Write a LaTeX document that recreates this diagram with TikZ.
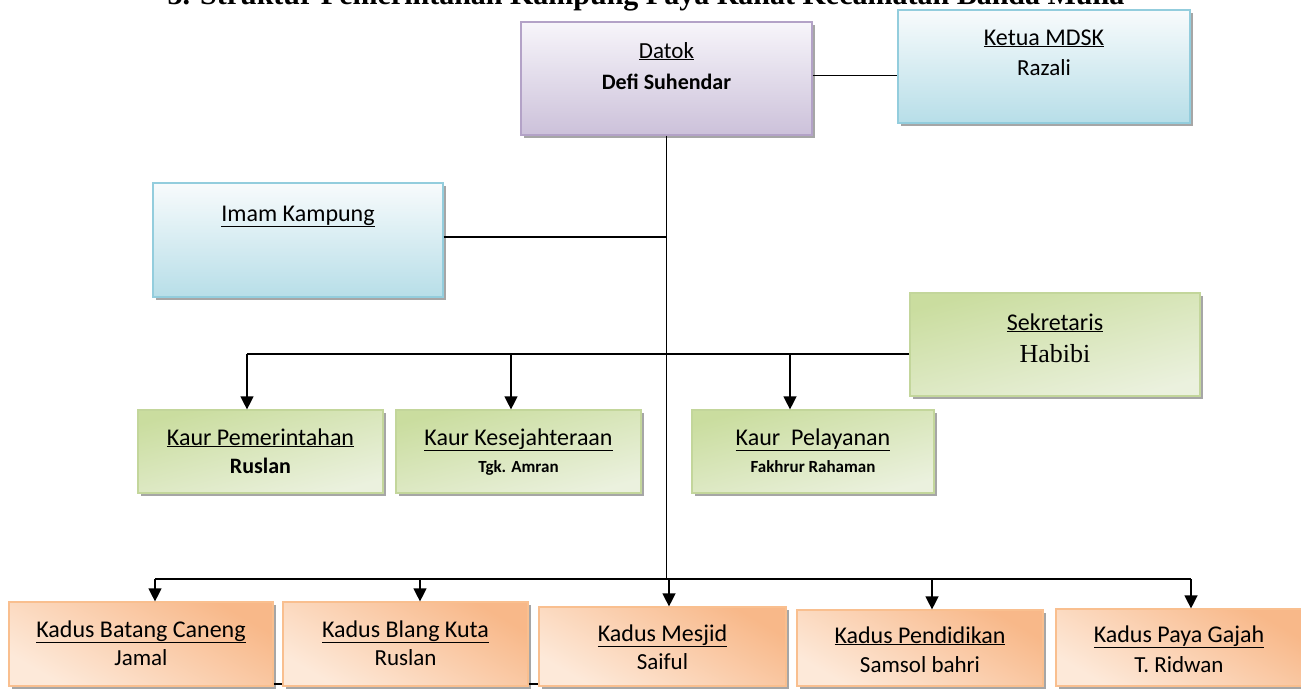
\documentclass[tikz,border=0pt]{standalone}
\usepackage{fontspec}
\setmainfont{Carlito}
\newfontfamily\timesf{Liberation Serif}
\usetikzlibrary{arrows.meta,shadows}
\definecolor{purpD}{HTML}{B3A2C7}
\definecolor{purpT}{HTML}{F7F5FA}
\definecolor{purpB}{HTML}{CCC1DA}
\definecolor{blueD}{HTML}{93CDDD}
\definecolor{blueT}{HTML}{F8FBFC}
\definecolor{blueB}{HTML}{B7DEE8}
\definecolor{greenD}{HTML}{C3D69B}
\definecolor{greenT}{HTML}{CADD9F}
\definecolor{greenB}{HTML}{EBF1DE}
\definecolor{orD}{HTML}{F9BF8F}
\definecolor{orT}{HTML}{F8B889}
\definecolor{orB}{HTML}{FDE9D9}
\definecolor{shadowc}{HTML}{A6A6A6}
\tikzset{
  box/.style={rectangle, inner sep=0pt, line width=1.2pt,
    drop shadow={shadow xshift=3pt, shadow yshift=-3pt, fill=shadowc, opacity=1}},
  purplebox/.style={box, draw=purpD, top color=purpT, bottom color=purpB},
  bluebox/.style={box, draw=blueD, top color=blueT, bottom color=blueB},
  greenbox/.style={box, draw=greenD, top color=greenT, bottom color=greenB, shading angle=15},
  orangebox/.style={box, draw=orD, top color=orT, bottom color=orB, shading angle=-30},
  txt/.style={anchor=base, inner sep=0pt, font=\fontsize{24}{28}\selectfont},
  txtn/.style={txt, font=\fontsize{23}{27}\selectfont},
  txtb/.style={txt, font=\fontsize{22}{26}\selectfont\bfseries},
  txts/.style={txt, font=\fontsize{17}{20}\selectfont\bfseries},
  conn/.style={line width=1.3pt, draw=black},
  arr/.style={conn, -{Triangle[length=13pt,width=13pt]}},
}
\begin{document}
\begin{tikzpicture}[x=1pt,y=-1pt]
\useasboundingbox (0,0) rectangle (1301,688);
% title (cut off at the top edge, as in the reference)
\node[anchor=base, inner sep=0pt, font=\timesf\bfseries\fontsize{30}{34}\selectfont] (title) at (646,5)
  {3. Struktur Pemerintahan Kampung Paya Rahat Kecamatan Banda Mulia};
% boxes
\node[purplebox, minimum width=291pt, minimum height=113pt] (datok) at (666.5,78.5) {};
\node[bluebox, minimum width=292pt, minimum height=113pt] (mdsk) at (1044,66.5) {};
\node[bluebox, minimum width=290pt, minimum height=114pt] (imam) at (298,240) {};
\node[greenbox, minimum width=290pt, minimum height=103pt] (sek) at (1055,344.5) {};
\node[greenbox, minimum width=245pt, minimum height=83pt] (kaur1) at (260.5,451.5) {};
\node[greenbox, minimum width=245pt, minimum height=83pt] (kaur2) at (518.5,451.5) {};
\node[greenbox, minimum width=242pt, minimum height=83pt] (kaur3) at (813,451.5) {};
\node[orangebox, minimum width=264pt, minimum height=84pt] (kd1) at (141,644) {};
\node[orangebox, minimum width=245pt, minimum height=84pt] (kd2) at (405.5,644) {};
\node[orangebox, minimum width=247pt, minimum height=79pt] (kd3) at (662.5,646.5) {};
\node[orangebox, minimum width=246pt, minimum height=76pt] (kd4) at (920,648) {};
\node[orangebox, minimum width=246pt, minimum height=77pt] (kd5) at (1179,647.5) {};
% texts
\node[txtn] (datokT) at (666.5,58) {\underline{Datok}};
\node[txtb] (datokN) at (666.5,89) {Defi Suhendar};
\node[txt] (mdskT) at (1044,45) {\underline{Ketua MDSK}};
\node[txtn] (mdskN) at (1044,75) {Razali};
\node[txt] (imamT) at (298,221) {\underline{Imam Kampung}};
\node[txt] (sekT) at (1055,330) {\underline{Sekretaris}};
\node[txt, font=\timesf\fontsize{26}{30}\selectfont] (sekN) at (1055,362) {Habibi};
\node[txt] (kaur1T) at (260.5,445) {\underline{Kaur Pemerintahan}};
\node[txtb] (kaur1N) at (260.5,473) {Ruslan};
\node[txt] (kaur2T) at (518.5,445) {\underline{Kaur Kesejahteraan}};
\node[txts] (kaur2N) at (518.5,472) {Tgk. Amran};
\node[txt] (kaur3T) at (813,445) {\underline{Kaur~ Pelayanan}};
\node[txts] (kaur3N) at (813,472) {Fakhrur Rahaman};
\node[txt] (kd1T) at (141,637) {\underline{Kadus Batang Caneng}};
\node[txtn] (kd1N) at (141,665) {Jamal};
\node[txt] (kd2T) at (405.5,637) {\underline{Kadus Blang Kuta}};
\node[txtn] (kd2N) at (405.5,665) {Ruslan};
\node[txt] (kd3T) at (662.5,641) {\underline{Kadus Mesjid}};
\node[txtn] (kd3N) at (662.5,669) {Saiful};
\node[txt] (kd4T) at (920,643) {\underline{Kadus Pendidikan}};
\node[txtn] (kd4N) at (920,672) {Samsol bahri};
\node[txt] (kd5T) at (1179,642) {\underline{Kadus Paya Gajah}};
\node[txtn] (kd5N) at (1179,672) {T. Ridwan};
% coordinates
\coordinate (bus) at (669,579);
\coordinate (sekbus) at (247,354);
\coordinate (botY) at (0,684);
\coordinate (a1) at (155,579);
\coordinate (a2) at (420,579);
\coordinate (a4) at (932,579);
\coordinate (a5) at (1191,579);
\coordinate (k2) at (511,354);
\coordinate (k3) at (790,354);
% connectors
\draw[conn] ([yshift=3pt]datok.east) -- ([yshift=3pt]datok.east -| mdsk.west);
\draw[conn] (datok.south) -- (datok.south |- bus);
\draw[conn] ([yshift=3pt]imam.east) -- ([yshift=3pt]imam.east -| datok.south);
\draw[conn] (sek.west |- sekbus) -- (sekbus);
\draw[arr] (sekbus) -- (sekbus |- kaur1.north);
\draw[arr] (k2) -- (k2 |- kaur2.north);
\draw[arr] (k3) -- (k3 |- kaur3.north);
\draw[conn] (a1) -- (a5);
\draw[arr] (a1) -- (a1 |- kd1.north);
\draw[arr] (a2) -- (a2 |- kd2.north);
\draw[arr] (bus) -- (bus |- kd3.north);
\draw[arr] (a4) -- (a4 |- kd4.north);
\draw[arr] (a5) -- (a5 |- kd5.north);
\draw[conn] (kd1.east |- botY) -- (kd2.west |- botY);
\draw[conn] (kd2.east |- botY) -- (kd3.west |- botY);
\end{tikzpicture}
\end{document}
